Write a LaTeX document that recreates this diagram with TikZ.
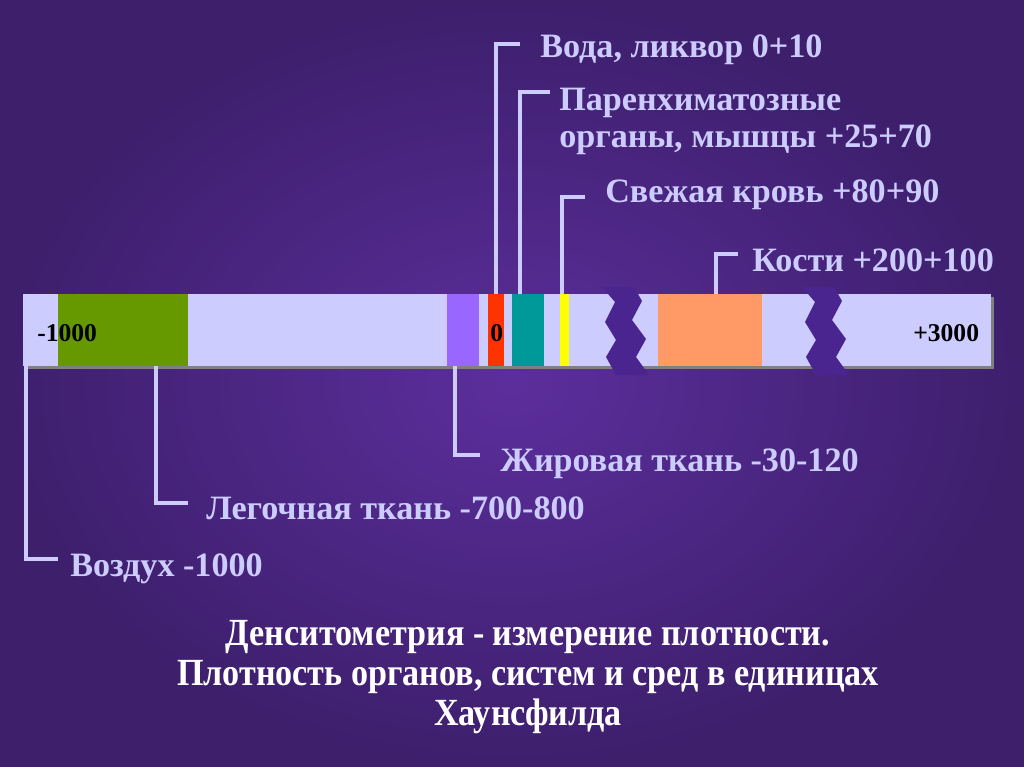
\documentclass[tikz,border=0pt]{standalone}
\usepackage{fontspec}
\setmainfont{Liberation Serif}
\newfontfamily\captfont[FakeStretch=0.888]{Liberation Serif}
\usepackage{xcolor}
\definecolor{bgIn}       {HTML}{5C2E9C}
\definecolor{bgOut}      {HTML}{3D1F6C}
\definecolor{barBack}    {HTML}{CCCCFF}
\definecolor{lavText}    {HTML}{CCCCFF}
\definecolor{lungGreen}  {HTML}{669900}
\definecolor{fatViolet}  {HTML}{9966FF}
\definecolor{waterRed}   {HTML}{FF3300}
\definecolor{organTeal}  {HTML}{009999}
\definecolor{bloodYellow}{HTML}{FFFF00}
\definecolor{boneOrange} {HTML}{FF9966}
\definecolor{breakPurple}{HTML}{4A2590}
\usetikzlibrary{positioning, calc}
\tikzset{
    lbl/.style={anchor=base west, inner sep=0pt, text=lavText,
                font=\fontsize{24}{26.5}\selectfont\bfseries, align=left},
    scalelbl/.style={anchor=base west, inner sep=0pt, text=black,
                font=\fontsize{18}{18}\selectfont\bfseries},
    capt/.style={anchor=base, inner sep=0pt, text=white, align=center,
                font=\captfont\fontsize{27}{28.1}\selectfont\bfseries},
    leader/.style={-, draw=lavText, line width=2.8pt},
    zigzag/.style={fill=breakPurple},
}

\begin{document}
\begin{tikzpicture}[x=0.703125pt, y=-0.703125pt]
    \useasboundingbox (0,0) rectangle (1024,767);
    \shade[inner color=bgIn, outer color=bgOut] (0,0) rectangle (1024,767);
    % scale bar
    \fill[gray] (26,297) rectangle (994,369);
    \fill[barBack] (23,294) rectangle (991,366);
    \foreach \xa/\xb/\col in {58/188/lungGreen, 447/479/fatViolet,
            488/504/waterRed, 512/544/organTeal, 560/569/bloodYellow,
            658/762/boneOrange}
        \fill[\col] (\xa,294) rectangle (\xb,366);
    \node[scalelbl] (sMin) at (37,341) {-1000};
    \node[scalelbl] (sZero) at (490,341) {0};
    \node[scalelbl] (sMax) at (913,341) {+3000};
    % breaks
    \foreach \dx in {0,200}
        \fill[zigzag, shift={(\dx,0)}] (602,287) -- (615,302) -- (605,322)
            -- (616,340) -- (606,357) -- (616,375) -- (649,375) -- (636,357)
            -- (646,339) -- (632,320) -- (642,301) -- (634,287) -- cycle;
    % attach points
    \coordinate (kAir) at (26,366);
    \coordinate (kLung) at (156,366);
    \coordinate (kFat) at (455,366);
    \coordinate (kWater) at (496,294);
    \coordinate (kOrgan) at (520,294);
    \coordinate (kBlood) at (562,294);
    \coordinate (kBone) at (716,294);
    % labels
    \node[lbl] (tWater) at (540,58) {Вода, ликвор 0+10};
    \node[lbl] (tOrgan) at (559,148) {Паренхиматозные\\органы, мышцы +25+70};
    \node[lbl] (tBlood) at (605,203) {Свежая кровь +80+90};
    \node[lbl] (tBone) at (752,271) {Кости +200+100};
    \node[lbl] (tFat) at (500,471) {Жировая ткань -30-120};
    \node[lbl] (tLung) at (206,519) {Легочная ткань -700-800};
    \node[lbl] (tAir) at (70,576) {Воздух -1000};
    \draw[leader] (kWater) |- ([shift={(-20,-14)}]tWater.base west);
    \draw[leader] (kOrgan) |- ([shift={(-9,-56)}]tOrgan.base west);
    \draw[leader] (kBlood) |- ([shift={(-20,-6)}]tBlood.base west);
    \draw[leader] (kBone) |- ([shift={(-14,-17)}]tBone.base west);
    \draw[leader] (kFat) |- ([shift={(-20,-16)}]tFat.base west);
    \draw[leader] (kLung) |- ([shift={(-18,-16)}]tLung.base west);
    \draw[leader] (kAir) |- ([shift={(-12,-17)}]tAir.base west);
    % caption
    \node[capt] (tCapt) at (528,725) {Денситометрия - измерение плотности.\\
        Плотность органов, систем и сред в единицах\\Хаунсфилда};
\end{tikzpicture}
\end{document}
